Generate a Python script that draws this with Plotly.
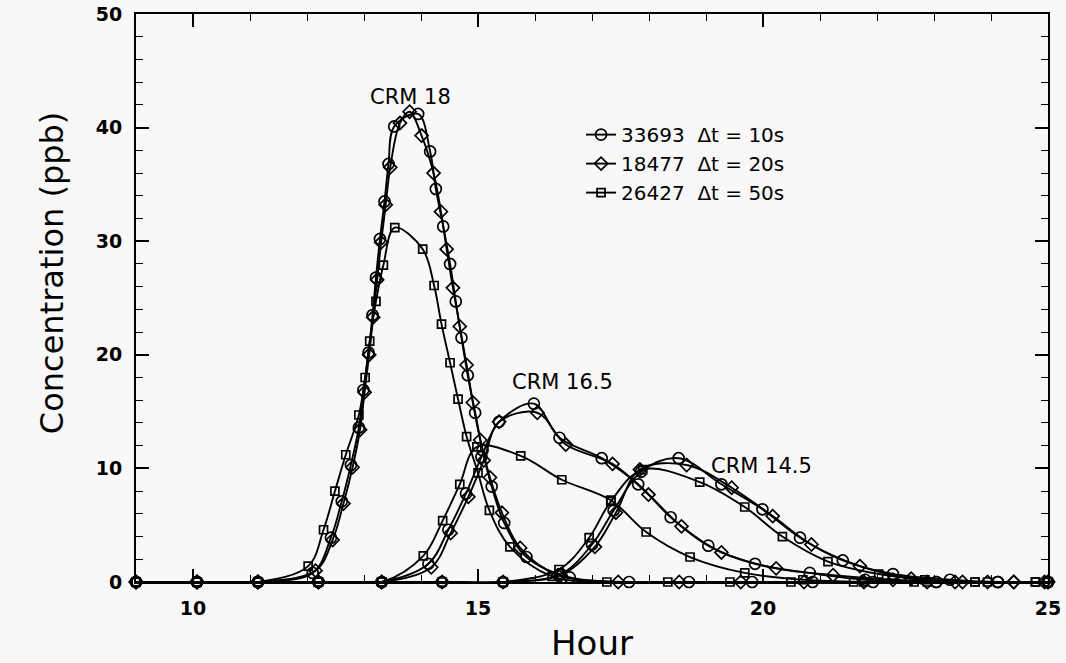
import plotly.graph_objects as go

# ---------------- data ----------------
# CRM 18
c18_circle_x = [9, 10.07, 11.14, 12.1, 12.42, 12.61, 12.77, 12.91, 12.99, 13.08, 13.15, 13.21, 13.28, 13.36, 13.43, 13.53, 13.95, 14.16, 14.26, 14.39, 14.51, 14.61, 14.71, 14.82, 14.95, 15.08, 15.24, 15.46, 15.85, 16.61, 17.65, 18.7, 19.81, 20.87, 21.93, 23.04, 24.12, 25]
c18_circle_y = [0, 0, 0, 0.8, 3.9, 7.1, 10.3, 13.6, 16.9, 20.2, 23.5, 26.8, 30.2, 33.5, 36.8, 40.1, 41.2, 37.9, 34.6, 31.3, 28.0, 24.7, 21.5, 18.2, 14.9, 11.6, 8.4, 5.2, 2.2, 0.4, 0, 0, 0, 0, 0, 0, 0, 0]
c18_diamond_x = [9, 10.07, 11.14, 12.15, 12.45, 12.64, 12.80, 12.93, 13.01, 13.09, 13.16, 13.23, 13.30, 13.38, 13.46, 13.63, 13.80, 14.01, 14.22, 14.35, 14.45, 14.56, 14.68, 14.80, 14.91, 15.04, 15.21, 15.42, 15.74, 16.4, 17.46, 18.53, 19.61, 20.72, 21.77, 22.88, 23.94, 24.94]
c18_diamond_y = [0, 0, 0, 1.0, 3.7, 6.9, 10.1, 13.4, 16.7, 20.0, 23.3, 26.6, 29.9, 33.2, 36.5, 40.4, 41.4, 39.3, 36.0, 32.6, 29.3, 25.9, 22.5, 19.1, 15.8, 12.5, 9.2, 6.1, 3.0, 0.6, 0, 0, 0, 0, 0, 0, 0, 0]
c18_square_x = [9, 10.07, 11.14, 12.02, 12.29, 12.49, 12.68, 12.91, 13.02, 13.1, 13.21, 13.34, 13.54, 14.03, 14.23, 14.36, 14.51, 14.65, 14.80, 15.0, 15.2, 15.56, 16.3, 17.26, 18.33, 19.42, 20.49, 21.59, 22.65, 23.72, 24.78]
c18_square_y = [0, 0, 0, 1.4, 4.6, 8.0, 11.2, 14.7, 18.0, 21.2, 24.7, 27.9, 31.2, 29.3, 26.1, 22.7, 19.3, 16.1, 12.8, 9.6, 6.3, 3.1, 0.5, 0, 0, 0, 0, 0, 0, 0, 0]

# CRM 16.5
c165_circle_x = [9, 10.07, 11.14, 12.2, 13.31, 14.13, 14.48, 14.79, 15.06, 15.37, 15.98, 16.43, 17.17, 17.81, 18.38, 19.04, 19.86, 20.82, 21.79, 23.04, 24.12, 25]
c165_circle_y = [0, 0, 0, 0, 0, 1.6, 4.6, 7.8, 11.0, 14.1, 15.7, 12.7, 10.9, 8.6, 5.7, 3.2, 1.6, 0.8, 0.2, 0, 0, 0]
c165_diamond_x = [9, 10.07, 11.14, 12.2, 13.31, 14.18, 14.52, 14.83, 15.1, 15.37, 16.04, 16.54, 17.36, 17.99, 18.57, 19.27, 20.23, 21.23, 22.28, 23.37, 24.4, 25]
c165_diamond_y = [0, 0, 0, 0, 0, 1.3, 4.3, 7.5, 10.7, 14.1, 14.9, 12.1, 10.4, 7.7, 4.9, 2.6, 1.2, 0.6, 0.2, 0, 0, 0]
c165_square_x = [9, 10.07, 11.14, 12.2, 13.31, 14.04, 14.38, 14.68, 14.98, 15.75, 16.47, 17.33, 17.95, 18.72, 19.68, 20.7, 21.77, 22.88, 23.94, 25]
c165_square_y = [0, 0, 0, 0, 0, 2.3, 5.4, 8.6, 11.9, 11.1, 9.0, 7.2, 4.4, 2.2, 0.8, 0.2, 0, 0, 0, 0]

# CRM 14.5
c145_circle_x = [9, 10.07, 11.14, 12.2, 13.31, 14.37, 15.44, 16.45, 17.0, 17.38, 17.86, 18.52, 19.27, 19.99, 20.65, 21.4, 22.28, 23.28, 24.12, 25]
c145_circle_y = [0, 0, 0, 0, 0, 0, 0, 0.7, 3.3, 6.3, 9.7, 10.9, 8.6, 6.4, 3.9, 1.9, 0.7, 0.2, 0, 0]
c145_diamond_x = [9, 10.07, 11.14, 12.2, 13.31, 14.37, 15.44, 16.45, 17.05, 17.42, 17.84, 18.66, 19.45, 20.17, 20.85, 21.7, 22.6, 23.5, 24.4, 25]
c145_diamond_y = [0, 0, 0, 0, 0, 0, 0, 0.6, 3.1, 6.1, 9.9, 10.3, 8.3, 5.8, 3.3, 1.4, 0.3, 0, 0, 0]
c145_square_x = [9, 10.07, 11.14, 12.2, 13.31, 14.37, 15.44, 16.42, 16.95, 17.33, 17.89, 18.89, 19.68, 20.34, 21.14, 22.03, 22.84, 23.72, 24.78]
c145_square_y = [0, 0, 0, 0, 0, 0, 0, 1.1, 3.9, 7.1, 9.9, 8.8, 6.6, 4.0, 1.8, 0.7, 0.2, 0, 0]

series_names = ["33693\u00a0\u00a0Δt = 10s", "18477\u00a0\u00a0Δt = 20s", "26427\u00a0\u00a0Δt = 50s"]
curve_labels = ["CRM 18", "CRM 16.5", "CRM 14.5"]
label_x = [13.82, 16.49, 19.98]
label_y = [42.7, 17.6, 10.2]

x_ticks = [10, 15, 20, 25]
y_ticks = [0, 10, 20, 30, 40, 50]

# ---------------- figure ----------------
curves = [
    [(c18_circle_x, c18_circle_y), (c165_circle_x, c165_circle_y), (c145_circle_x, c145_circle_y)],
    [(c18_diamond_x, c18_diamond_y), (c165_diamond_x, c165_diamond_y), (c145_diamond_x, c145_diamond_y)],
    [(c18_square_x, c18_square_y), (c165_square_x, c165_square_y), (c145_square_x, c145_square_y)],
]
symbols = ["circle-open", "diamond-open", "square-open"]
sizes = [11, 10, 8]

fig = go.Figure()
for i, name in enumerate(series_names):
    for j, (xs, ys) in enumerate(curves[i]):
        fig.add_trace(go.Scatter(
            x=xs, y=ys, name=name, legendgroup=name, showlegend=(j == 0),
            mode="lines+markers",
            line=dict(color="black", width=1.9, shape="spline", smoothing=1.0),
            marker=dict(symbol=symbols[i], size=sizes[i], color="black",
                        line=dict(color="black", width=1.7)),
            cliponaxis=False,
        ))

for t, xx, yy in zip(curve_labels, label_x, label_y):
    fig.add_annotation(x=xx, y=yy, text=t, showarrow=False,
                       font=dict(family="DejaVu Sans", size=21, color="black"))

# y-axis title (placed as in the reference, slightly above the plot centre)
fig.add_annotation(xref="paper", yref="y", x=-0.115, y=27.2, text="Concentration (ppb)",
                   textangle=-90, showarrow=False,
                   font=dict(family="DejaVu Sans", size=32, color="black"))

axis_common = dict(
    showline=True, linewidth=2, linecolor="black", mirror="ticks",
    ticks="inside", ticklen=13, tickwidth=1.6, tickcolor="black",
    showgrid=False, zeroline=False,
    tickfont=dict(family="DejaVu Sans", size=19, color="black", weight="bold"),
)

fig.update_layout(
    width=1066, height=663,
    margin=dict(l=136, r=18, t=14, b=81),
    paper_bgcolor="#f8f8f8", plot_bgcolor="#f8f8f8",
    font=dict(family="DejaVu Sans", color="black"),
    xaxis=dict(range=[9, 25], tickvals=x_ticks,
               minor=dict(dtick=1, tick0=9, ticks="inside", ticklen=7, tickcolor="black", tickwidth=1.3),
               title=dict(text="Hour", font=dict(family="DejaVu Sans", size=34), standoff=14),
               ticklabelstandoff=8, automargin=False, **axis_common),
    yaxis=dict(range=[0, 50], tickvals=y_ticks,
               minor=dict(dtick=2, tick0=0, ticks="inside", ticklen=7, tickcolor="black", tickwidth=1.3),
               ticklabelstandoff=8, automargin=False, **axis_common),
    legend=dict(x=0.488, y=0.822, xanchor="left", yanchor="top", tracegroupgap=0,
                bgcolor="rgba(0,0,0,0)", font=dict(family="DejaVu Sans", size=20, color="black")),
)

fig.write_html("out.html")
